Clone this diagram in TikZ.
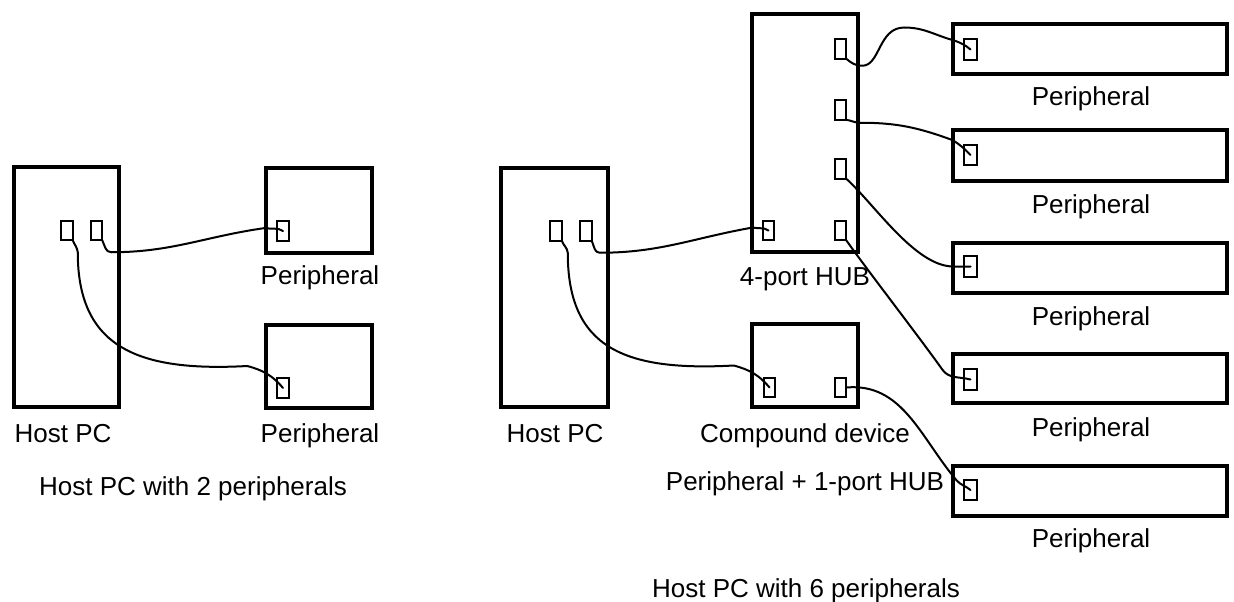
\documentclass[tikz,border=0pt]{standalone}
\usepackage{fontspec}
\setmainfont{Liberation Sans}
\usetikzlibrary{calc}
\begin{document}
\begin{tikzpicture}[x=1pt,y=1pt,
  box/.style={draw, line width=3.1pt, inner sep=0pt, outer sep=0pt, anchor=north west},
  port/.style={draw, line width=1.9pt, inner sep=0pt, outer sep=0pt, minimum width=11.5pt, minimum height=19.5pt},
  rport/.style={port, minimum width=12.5pt, minimum height=20.5pt},
  wire/.style={line width=2pt, line cap=round, line join=round},
  lbl/.style={inner sep=0pt, anchor=base, font=\fontsize{26}{30}\selectfont}]
\useasboundingbox (0,0) rectangle (1234,-602);
% ---------- left picture ----------
\node[box, minimum width=105pt, minimum height=240pt] (hostA) at (14,-167) {};
\node[box, minimum width=106pt, minimum height=85pt] (perA1) at (266,-168) {};
\node[box, minimum width=106pt, minimum height=83pt] (perA2) at (266,-325) {};
\node[port] (pA1) at (67,-230.5) {};
\node[port] (pA2) at (96.5,-230.5) {};
\node[port] (pa1) at (283,-231) {};
\node[port] (pa2) at (283,-388) {};
\node[lbl] (lhostA) at (63,-442) {Host PC};
\node[lbl] (lperA1) at (320,-284) {Peripheral};
\node[lbl] (lperA2) at (320,-442) {Peripheral};
\node[lbl] (capA) at (193,-495) {Host PC with 2 peripherals};
\draw[wire] (pA2.south east) to[out=-65,in=180] ++(9,-12)
  to[out=0,in=188] ($(pa1.west)+(-12,3)$) to[out=-15,in=145] (pa1.center);
\draw[wire] (pA1.south east) to[out=-70,in=95] ++(5,-12)
  .. controls +(0,-95) and +(-110,-6) .. ($(pa2.west)+(-30,22)$)
  to[out=-15,in=130] (pa2.center);
% ---------- right picture ----------
\node[box, minimum width=107pt, minimum height=239pt] (hostB) at (501,-168) {};
\node[box, minimum width=106pt, minimum height=238pt] (hub) at (752,-14) {};
\node[box, minimum width=106pt, minimum height=83pt] (comp) at (752,-324) {};
\node[box, minimum width=274pt, minimum height=50pt] (perB1) at (953,-24) {};
\node[box, minimum width=274pt, minimum height=51pt] (perB2) at (953,-130) {};
\node[box, minimum width=274pt, minimum height=50pt] (perB3) at (953,-243) {};
\node[box, minimum width=274pt, minimum height=49pt] (perB4) at (953,-354) {};
\node[box, minimum width=274pt, minimum height=50pt] (perB5) at (953,-466) {};
\node[port] (pB1) at (556,-231) {};
\node[port] (pB2) at (586,-231) {};
\node[port] (hl) at (768.5,-230.5) {};
\node[port] (h1) at (840.5,-49) {};
\node[port] (h2) at (840.5,-110) {};
\node[port] (h3) at (840.5,-169) {};
\node[port] (h4) at (840.5,-230.5) {};
\node[port] (cl) at (769.5,-387.5) {};
\node[port] (c2) at (840.5,-387.5) {};
\node[rport] (r1) at (970.5,-49.5) {};
\node[rport] (r2) at (970.5,-155) {};
\node[rport] (r3) at (970.5,-266.5) {};
\node[rport] (r4) at (970.5,-379.5) {};
\node[rport] (r5) at (970.5,-490) {};
\node[lbl] (lhostB) at (555,-442) {Host PC};
\node[lbl] (lhub) at (805,-285) {4-port HUB};
\node[lbl] (lcomp) at (805,-442) {Compound device};
\node[lbl] (lcomp2) at (805,-490) {Peripheral + 1-port HUB};
\node[lbl] (capB) at (806,-597) {Host PC with 6 peripherals};
\node[lbl] (lr1) at (1091,-106) {Peripheral};
\node[lbl] (lr2) at (1091,-213) {Peripheral};
\node[lbl] (lr3) at (1091,-325) {Peripheral};
\node[lbl] (lr4) at (1091,-436) {Peripheral};
\node[lbl] (lr5) at (1091,-547) {Peripheral};
% wires
\draw[wire] (pB2.south east) to[out=-65,in=180] ++(8,-12)
  to[out=0,in=190] ($(hl.west)+(-10,3)$) to[out=-15,in=145] (hl.center);
\draw[wire] (pB1.south east) to[out=-70,in=95] ++(6,-12)
  .. controls +(0,-95) and +(-110,-6) .. ($(cl.west)+(-30,22)$)
  to[out=-15,in=130] (cl.center);
\draw[wire] (h1.south east) to[out=-40,in=180] ++(16,-7)
  .. controls +(18,0) and +(-26,0) .. ($(r1.west)+(-60,22)$)
  to[out=0,in=165] ($(r1.west)+(-10,9)$) to[out=-20,in=140] (r1.center);
\draw[wire] (h2.south east) to[out=-10,in=180] ++(14,-3)
  to[out=0,in=160] ($(r2.west)+(-12,15)$) to[out=-30,in=135] (r2.center);
\draw[wire] (h3.south east) to[out=-42,in=180,looseness=0.7] ($(r3.west)+(-11,0)$) -- (r3.center);
\draw[wire] (h4.south east) to[out=-55,in=125,looseness=0.5] ($(r4.west)+(-22,10)$)
  to[out=-55,in=165] (r4.center);
\draw[wire] (c2.east) to[out=5,in=130] ($(r5.west)+(-8,10)$) to[out=-50,in=140] (r5.center);
\end{tikzpicture}
\end{document}
